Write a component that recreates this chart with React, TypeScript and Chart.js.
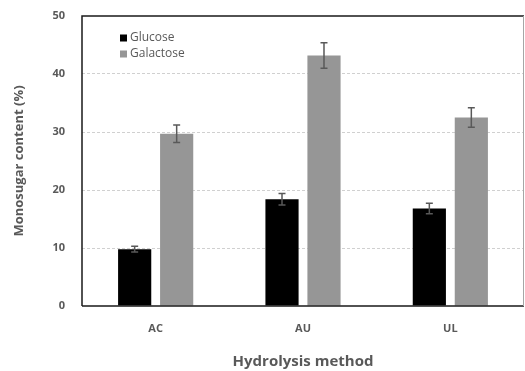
import React, { useEffect, useRef } from "react";
import { Chart, registerables } from "chart.js";

Chart.register(...registerables);

const categories = ["AC", "AU", "UL"];
const glucose = [9.8, 18.4, 16.8];
const glucoseErr = [0.5, 1.0, 0.9];
const galactose = [29.7, 43.2, 32.5];
const galactoseErr = [1.5, 2.2, 1.7];
const yTicks = [0, 10, 20, 30, 40, 50];

const FONT = "'Open Sans', 'DejaVu Sans', sans-serif";
const TEXT = "#595959";

const errorBarPlugin = {
  id: "errorBars",
  afterDatasetsDraw(chart: any) {
    const { ctx } = chart;
    const errs = [glucoseErr, galactoseErr];
    ctx.save();
    ctx.strokeStyle = "#595959";
    ctx.lineWidth = 1.5;
    chart.data.datasets.forEach((ds: any, i: number) => {
      const meta = chart.getDatasetMeta(i);
      const ys = chart.scales.y;
      meta.data.forEach((bar: any, j: number) => {
        const v = ds.data[j];
        const e = errs[i][j];
        const x = bar.x;
        const y1 = ys.getPixelForValue(v + e);
        const y2 = ys.getPixelForValue(v - e);
        ctx.beginPath();
        ctx.moveTo(x, y1);
        ctx.lineTo(x, y2);
        ctx.moveTo(x - 3.5, y1);
        ctx.lineTo(x + 3.5, y1);
        ctx.moveTo(x - 3.5, y2);
        ctx.lineTo(x + 3.5, y2);
        ctx.stroke();
      });
    });
    ctx.restore();
  },
};

const framePlugin = {
  id: "frame",
  afterDraw(chart: any) {
    const { ctx, chartArea: a } = chart;
    ctx.save();
    ctx.lineWidth = 1.5;
    ctx.strokeStyle = "#1a1a1a";
    ctx.beginPath();
    ctx.moveTo(a.left, a.bottom);
    ctx.lineTo(a.left, a.top);
    ctx.lineTo(a.right, a.top);
    ctx.moveTo(a.left, a.bottom);
    ctx.lineTo(a.right, a.bottom);
    ctx.stroke();
    ctx.lineWidth = 1;
    ctx.strokeStyle = "#a6a6a6";
    ctx.beginPath();
    ctx.moveTo(a.right - 0.5, a.top);
    ctx.lineTo(a.right - 0.5, a.bottom);
    ctx.stroke();

    // legend inside plot
    const items = chart.data.datasets.map((d: any) => ({ label: d.label, color: d.backgroundColor }));
    ctx.font = `12px ${FONT}`;
    ctx.textBaseline = "middle";
    ctx.textAlign = "left";
    items.forEach((it: any, i: number) => {
      const y = a.top + 22 + i * 16;
      const x = a.left + 38;
      ctx.fillStyle = it.color;
      ctx.fillRect(x, y - 3.5, 7, 7);
      ctx.fillStyle = TEXT;
      ctx.fillText(it.label, x + 10, y);
    });
    ctx.restore();
  },
};

export default function App() {
  const ref = useRef<HTMLCanvasElement>(null);
  useEffect(() => {
    document.body.style.margin = "0";
    const chart = new Chart(ref.current as HTMLCanvasElement, {
      type: "bar",
      data: {
        labels: categories,
        datasets: [
          {
            label: "Glucose",
            data: glucose,
            backgroundColor: "#000000",
            categoryPercentage: 0.57,
            barPercentage: 0.79,
          },
          {
            label: "Galactose",
            data: galactose,
            backgroundColor: "#969696",
            categoryPercentage: 0.57,
            barPercentage: 0.79,
          },
        ],
      },
      options: {
        animation: false,
        responsive: false,
        maintainAspectRatio: false,
        layout: { padding: { top: 16, right: 1, left: 0, bottom: 0 } },
        plugins: { legend: { display: false }, tooltip: { enabled: false } },
        scales: {
          x: {
            grid: { display: false, drawTicks: false },
            border: { display: false },
            ticks: { color: TEXT, font: { family: FONT, size: 11, weight: "bold" }, padding: 16 },
            title: {
              display: true,
              text: "Hydrolysis method",
              color: TEXT,
              font: { family: FONT, size: 15, weight: "bold" },
              padding: { top: 0, bottom: 0 },
            },
            afterFit: (s: any) => {
              s.height = 65;
            },
          },
          y: {
            min: 0,
            max: 50,
            afterBuildTicks: (s: any) => {
              s.ticks = yTicks.map((v) => ({ value: v }));
            },
            grid: {
              color: (c: any) => (c.tick && (c.tick.value === 0 || c.tick.value === 50) ? "rgba(0,0,0,0)" : "#d0d0d0"),
              drawTicks: false,
              lineWidth: 1,
            },
            border: { display: false, dash: [3, 2] },
            ticks: { color: TEXT, font: { family: FONT, size: 11, weight: "bold" }, padding: 17 },
            title: {
              display: true,
              text: "Monosugar content (%)",
              color: TEXT,
              font: { family: FONT, size: 13, weight: "bold" },
              padding: { top: 11, bottom: 0 },
            },
            afterFit: (s: any) => {
              s.width = 82;
              s.paddingTop = 0;
              s.paddingBottom = 0;
            },
          },
        },
      },
      plugins: [errorBarPlugin, framePlugin],
    } as any);
    return () => chart.destroy();
  }, []);
  return (
    <div style={{ width: 525, height: 371 }}>
      <canvas ref={ref} width={525} height={371} style={{ width: 525, height: 371, display: "block" }} />
    </div>
  );
}
